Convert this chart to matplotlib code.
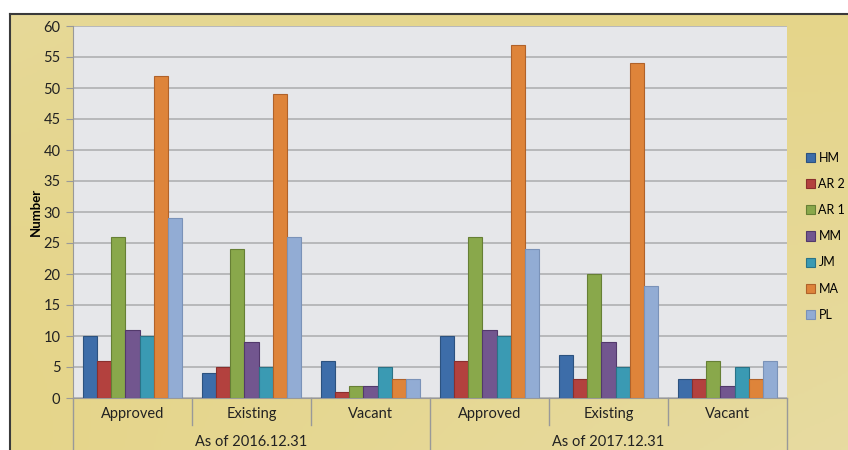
import numpy as np
import matplotlib
matplotlib.use("Agg")
import matplotlib.pyplot as plt
from matplotlib.lines import Line2D
from matplotlib.colors import LinearSegmentedColormap

plt.rcParams['font.family'] = ['Lato', 'DejaVu Sans']

# ---- data ----
series = ["HM", "AR 2", "AR 1", "MM", "JM", "MA", "PL"]
categories = ["Approved", "Existing", "Vacant", "Approved", "Existing", "Vacant"]
groups = ["As of 2016.12.31", "As of 2017.12.31"]
HM  = [10, 4, 6, 10, 7, 3]
AR2 = [6, 5, 1, 6, 3, 3]
AR1 = [26, 24, 2, 26, 20, 6]
MM  = [11, 9, 2, 11, 9, 2]
JM  = [10, 5, 5, 10, 5, 5]
MA  = [52, 49, 3, 57, 54, 3]
PL  = [29, 26, 3, 24, 18, 6]
values = [HM, AR2, AR1, MM, JM, MA, PL]
y_ticks = list(range(0, 61, 5))

colors = ["#3D6DA9", "#B3413E", "#89A84B", "#72568F", "#3A9AB3", "#DE843A", "#92ACD4"]
edges  = ["#2C527F", "#8A2F2D", "#667F35", "#52396B", "#2A7387", "#B0622A", "#7A92B8"]

W, H = 848, 450
fig = plt.figure(figsize=(W / 100, H / 100), dpi=100)
fig.patch.set_facecolor("white")

# background frame with gradient
bg = fig.add_axes([10 / W, 0, (W - 10) / W, (H - 14) / H], zorder=-10)
yy, xx = np.mgrid[0:1:200j, 0:1:400j]
t = np.clip(0.55 * (1 - yy) * xx + 0.35 * (yy * (1 - xx)) ** 2, 0, 1)
cmap = LinearSegmentedColormap.from_list("bg", ["#E5D58A", "#E9E0B4"])
bg.imshow(t, cmap=cmap, aspect="auto", extent=[0, 1, 0, 1], origin="lower", vmin=0, vmax=1)
bg.set_xticks([]); bg.set_yticks([])
for s in ["right", "bottom"]:
    bg.spines[s].set_visible(False)
for s in ["top", "left"]:
    bg.spines[s].set_color("#3a3a3a")
    bg.spines[s].set_linewidth(1.5)

L, R, T, B = 73, 787, 26, 398
ax = fig.add_axes([L / W, (H - B) / H, (R - L) / W, (B - T) / H])
ax.set_facecolor("#E6E7EA")

n = len(series)
ncat = len(categories)
x = np.arange(ncat)
bw = 0.118
for i, (vals, c, e) in enumerate(zip(values, colors, edges)):
    off = (i - (n - 1) / 2) * bw
    ax.bar(x + off, vals, width=bw, color=c, edgecolor=e, linewidth=0.8,
           label=series[i], zorder=3)

ax.set_xlim(-0.5, ncat - 0.5)
ax.set_ylim(0, 60)
ax.set_yticks(y_ticks)
ax.set_yticklabels([str(v) for v in y_ticks], fontsize=10.5, color="#222222")
ax.yaxis.grid(True, color="#ABABAD", linewidth=1.1, zorder=0)
ax.set_axisbelow(True)
ax.tick_params(axis="y", length=5, color="#999999", pad=4)
ax.set_xticks([])
for s in ["top", "right"]:
    ax.spines[s].set_visible(False)
ax.spines["left"].set_color("#999999")
ax.spines["bottom"].set_color("#999999")

ax.set_ylabel("Number", fontsize=9.5, fontweight="bold", labelpad=1)

# category labels and separators
trans = ax.get_xaxis_transform()
def fy(py):
    return -(py - B) / (B - T)

for i, c in enumerate(categories):
    ax.text(i, fy(414), c, ha="center", va="center", fontsize=10.5,
            color="#222222", transform=trans, clip_on=False)
for j, g in enumerate(groups):
    ax.text(j * 3 + 1, fy(442), g, ha="center", va="center", fontsize=10.5,
            color="#222222", transform=trans, clip_on=False)

for k in range(ncat + 1):
    xp = k - 0.5
    if k % 3 == 0:
        y1 = fy(H + 2)
    else:
        y1 = fy(425)
    ax.add_line(Line2D([xp, xp], [0, y1], transform=trans, color="#999999",
                       linewidth=1.0, clip_on=False))

leg = fig.legend(loc="upper left", bbox_to_anchor=(806 / W, (H - 152) / H),
                 frameon=False, fontsize=9, handlelength=0.75, handleheight=0.75,
                 handletextpad=0.25, labelspacing=1.13, borderaxespad=0,
                 borderpad=0)

fig.savefig("out.png", dpi=100)
